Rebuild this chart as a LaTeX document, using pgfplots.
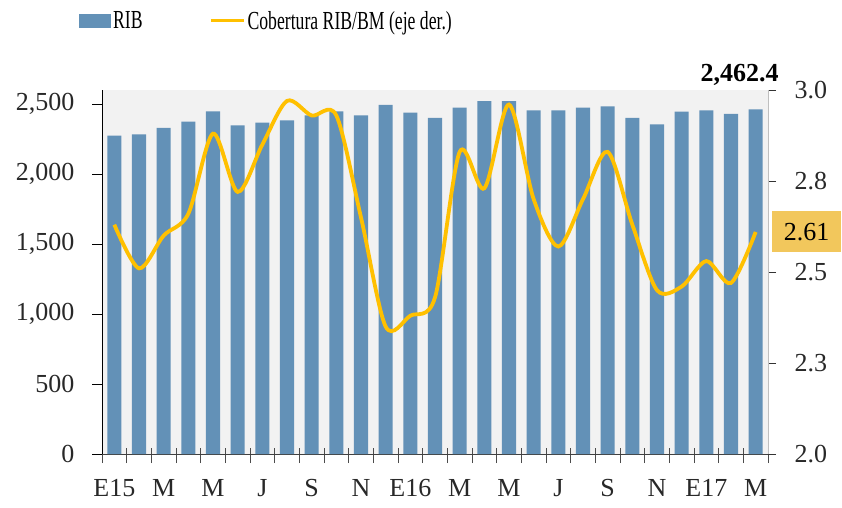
\documentclass[border=0pt]{standalone}
\usepackage{fontspec}
\setmainfont{Liberation Serif}
\usepackage{pgfplots}
\pgfplotsset{compat=1.18}
\usepackage{pgfplotstable}
\usepackage{graphicx}
\definecolor{barblue}{RGB}{99,145,183}
\definecolor{bggray}{RGB}{242,242,242}
\definecolor{lineyellow}{RGB}{255,192,0}
\definecolor{boxgold}{RGB}{242,199,92}
\definecolor{txt}{RGB}{40,40,40}

\pgfplotstableread{
x rib
1 2274
2 2283
3 2329
4 2374
5 2448
6 2348
7 2367
8 2383
9 2419
10 2448
11 2419
12 2493
13 2438
14 2400
15 2474
16 2521
17 2521
18 2455
19 2455
20 2474
21 2483
22 2400
23 2355
24 2445
25 2455
26 2429
27 2462.4
}\ribtable

\pgfplotstableread{
x cob
1 2.63
2 2.51
3 2.60
4 2.66
5 2.88
6 2.72
7 2.85
8 2.97
9 2.93
10 2.93
11 2.65
12 2.35
13 2.38
14 2.43
15 2.83
16 2.73
17 2.96
18 2.70
19 2.57
20 2.70
21 2.83
22 2.63
23 2.45
24 2.46
25 2.53
26 2.47
27 2.61
}\cobtable

\newcommand{\tickfont}{\fontsize{26bp}{31bp}\selectfont}

\begin{document}
\begin{tikzpicture}
\path[use as bounding box] (0,0) rectangle (842bp,508bp);
\begin{axis}[
  at={(102bp,54bp)}, anchor=south west,
  scale only axis, width=666bp, height=364bp,
  xmin=0.5, xmax=27.5, ymin=0, ymax=2600,
  clip=false,
  axis background/.style={fill=bggray},
  axis y line*=left, axis x line*=bottom,
  x axis line style={black!75, line width=0.9bp},
  y axis line style={black, line width=0.9bp},
  xtick={1,3,...,27},
  xticklabels={E15,M,M,J,S,N,E16,M,M,J,S,N,E17,M},
  minor xtick={0.5,1.5,...,27.5},
  major x tick style={draw=none},
  minor x tick style={black!70, line width=0.8bp, yshift=6bp},
  minor tick length=15bp,
  tick align=outside,
  major tick length=10bp,
  ytick={0,500,...,2500},
  major y tick style={black, line width=0.9bp},
  /pgf/number format/assume math mode=true,
  /pgf/number format/1000 sep={,},
  tick label style={font=\tickfont, text=txt},
  yticklabel style={xshift=-14bp},
  xticklabel style={yshift=-12bp},
]
\addplot[ybar, bar width=0.57, fill=barblue, draw=none] table[x=x,y=rib]{\ribtable};
\node[font=\bfseries\fontsize{26bp}{30bp}\selectfont, anchor=base, text=black, yshift=8bp] at (axis cs:26.35,2600) {2,462.4};
\end{axis}
\begin{axis}[
  at={(102bp,54bp)}, anchor=south west,
  scale only axis, width=666bp, height=364bp,
  xmin=0.5, xmax=27.5, ymin=2, ymax=3,
  clip=false,
  axis y line*=right, axis x line=none,
  y axis line style={black!25, line width=0.9bp},
  ytick={2,2.25,2.5,2.75,3},
  yticklabels={2.0,2.3,2.5,2.8,3.0},
  tick align=outside,
  major tick length=8bp,
  major y tick style={black!80, line width=0.8bp},
  /pgf/number format/assume math mode=true,
  tick label style={font=\tickfont, text=txt},
  yticklabel style={xshift=15bp},
  legend columns=2,
  legend style={at={(axis description cs:-0.0345,1.19)}, anchor=west,
    draw=none, fill=none, inner sep=0pt,
    font=\fontsize{26bp}{30bp}\selectfont,
    nodes={inner sep=2.5bp},
    /tikz/every even column/.append style={column sep=64bp}},
]
\addlegendimage{legend image code/.code={\fill[barblue] (0bp,-6.5bp) rectangle (31bp,6.5bp);}}
\addlegendentry{\scalebox{0.68}[1]{RIB}}
\addlegendimage{legend image code/.code={\draw[lineyellow, line width=3bp] (0bp,0bp) -- (33bp,0bp);}}
\addlegendentry{\scalebox{0.68}[1]{Cobertura RIB/BM (eje der.)}}
\addplot[lineyellow, line width=3.8bp, smooth, tension=0.5, forget plot] table[x=x,y=cob]{\cobtable};
\node[fill=boxgold, minimum width=69bp, minimum height=41bp, inner sep=0pt, font=\tickfont, text=black, xshift=38.5bp] at (axis cs:27.5,2.61) {2.61};
\end{axis}
\end{tikzpicture}
\end{document}
